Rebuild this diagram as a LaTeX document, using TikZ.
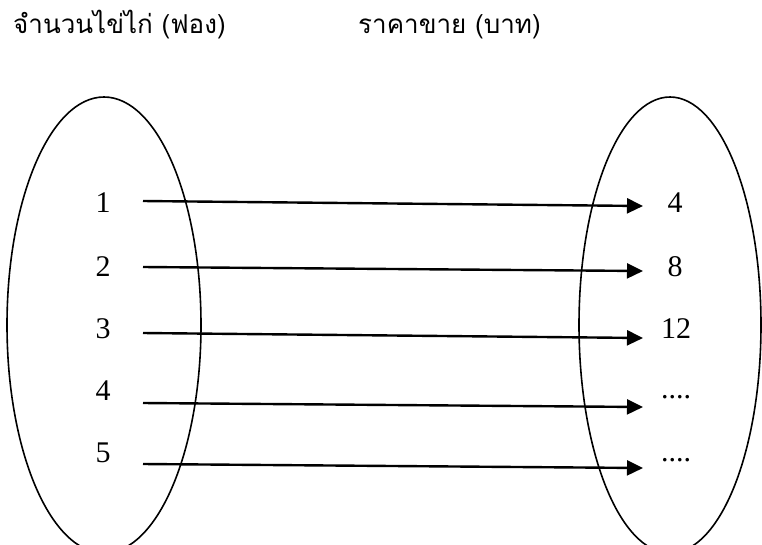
\documentclass[tikz,border=0pt]{standalone}
\usepackage{fontspec}
\setmainfont{Liberation Serif}
\newfontfamily\thaifont[Script=Thai]{Loma}
\usetikzlibrary{arrows.meta}
\tikzset{
  setshape/.style={draw=black, line width=1.6pt},
  mapline/.style={draw=black, line width=2.4pt, -{Triangle[length=16pt,width=15pt]}},
  numlabel/.style={font=\fontsize{30}{34}\selectfont, inner sep=0pt},
  header/.style={font=\thaifont\fontsize{26}{30}\selectfont, inner sep=0pt, anchor=base west}
}
\begin{document}
\begin{tikzpicture}[x=1pt,y=-1pt]
\useasboundingbox (0,0) rectangle (762,544);
\clip (0,0) rectangle (762,544);
% headers
\node[header] (hl) at (13,33) {จำนวนไข่ไก่ (ฟอง)};
\node[header] (hr) at (358,33) {ราคาขาย (บาท)};
% sets
\draw[setshape] (104,325) ellipse [x radius=97, y radius=228];
\draw[setshape] (670,325) ellipse [x radius=91, y radius=228];
% left labels
\node[numlabel] (n1) at (103,203) {1};
\node[numlabel] (n2) at (103,267) {2};
\node[numlabel] (n3) at (103,329) {3};
\node[numlabel] (n4) at (103,391) {4};
\node[numlabel] (n5) at (103,453) {5};
% right labels
\node[numlabel] (m1) at (675,203) {4};
\node[numlabel] (m2) at (675,267) {8};
\node[numlabel] (m3) at (676,329) {12};
\node[numlabel, anchor=base] (m4) at (676,398) {....};
\node[numlabel, anchor=base] (m5) at (676,461) {....};
% arrow ends
\coordinate (a1) at (143,201); \coordinate (b1) at (643,206);
\coordinate (a2) at (143,267); \coordinate (b2) at (643,271);
\coordinate (a3) at (143,333); \coordinate (b3) at (643,338);
\coordinate (a4) at (143,403); \coordinate (b4) at (643,407);
\coordinate (a5) at (143,464); \coordinate (b5) at (643,468);
\draw[mapline] (a1) -- (b1);
\draw[mapline] (a2) -- (b2);
\draw[mapline] (a3) -- (b3);
\draw[mapline] (a4) -- (b4);
\draw[mapline] (a5) -- (b5);
\end{tikzpicture}
\end{document}
